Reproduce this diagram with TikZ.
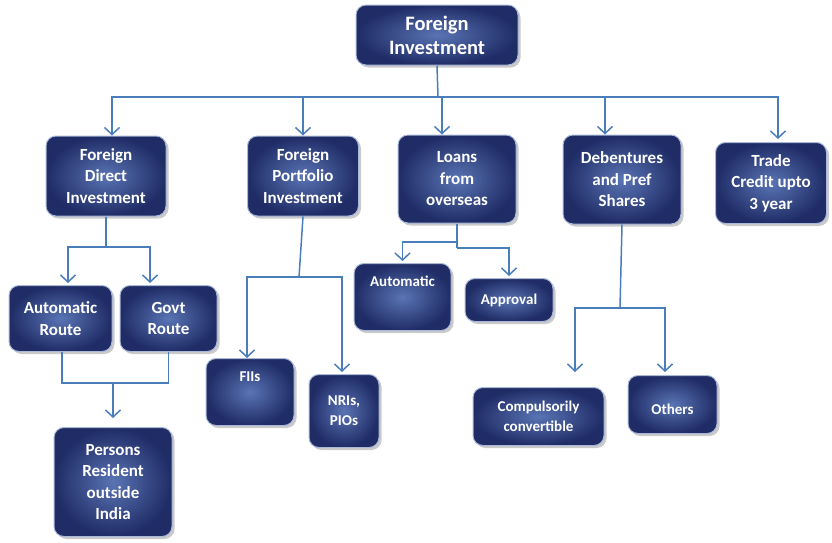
\documentclass[tikz,border=0pt]{standalone}
\usepackage{fontspec}
\setmainfont{Carlito}
\usetikzlibrary{arrows.meta,shadows}
\definecolor{lnc}{HTML}{4A7EBB}
\definecolor{boxin}{HTML}{5A74B4}
\definecolor{boxout}{HTML}{1F2C66}
\definecolor{boxln}{HTML}{A9B8D8}
\begin{document}
\begin{tikzpicture}[x=1pt,y=-1pt,
 box/.style={rounded corners=10pt, draw=boxln, line width=1pt, inner color=boxin, outer color=boxout,
   drop shadow={opacity=0.35, shadow xshift=2.5pt, shadow yshift=-2.5pt, fill=black!60},
   text=white, font=\bfseries\fontsize{17}{21.5}\selectfont, align=center, inner sep=0pt},
 small/.style={font=\bfseries\fontsize{15}{20}\selectfont},
 topbox/.style={font=\bfseries\fontsize{20.5}{24}\selectfont},
 ln/.style={draw=lnc, line width=1.5pt},
 arr/.style={ln, -{Straight Barb[length=7pt,width=15pt,line width=1.5pt]}}
]
\useasboundingbox (0,0) rectangle (832,542);

\node[box, topbox, minimum width=162pt, minimum height=60pt] (fi) at (437,35) {Foreign\\Investment};

\node[box, minimum width=120pt, minimum height=80pt] (fdi) at (106,176) {Foreign\\Direct\\Investment};
\node[box, minimum width=111pt, minimum height=80pt] (fpi) at (303,176) {Foreign\\Portfolio\\Investment};
\node[box, minimum width=118pt, minimum height=88pt] (lo) at (457,179) {Loans\\from\\overseas};
\node[box, minimum width=118pt, minimum height=89pt] (de) at (622,179.5) {Debentures\\and Pref\\Shares};
\node[box, minimum width=111pt, minimum height=81pt] (tr) at (771,183) {Trade\\Credit upto\\3 year};

\node[box, minimum width=103pt, minimum height=66pt] (ar) at (60.5,318.5) {Automatic\\Route};
\node[box, minimum width=97pt, minimum height=66pt] (gr) at (168.5,318.5) {Govt\\Route};
\node[box, minimum width=118pt, minimum height=109pt] (pr) at (113,482) {Persons\\Resident\\outside\\India};

\node[box, small, minimum width=88pt, minimum height=67pt, text height=10pt, text depth=31pt] (fii) at (250,392) {FIIs};
\node[box, small, minimum width=70pt, minimum height=73pt] (nri) at (344,411) {NRIs,\\PIOs};

\node[box, small, minimum width=97pt, minimum height=67pt, text height=10pt, text depth=31pt] (au) at (402.5,297) {Automatic};
\node[box, small, minimum width=88pt, minimum height=43pt] (ap) at (509,300) {Approval};

\node[box, small, minimum width=131pt, minimum height=58pt] (cc) at (538.5,416.5) {Compulsorily\\convertible};
\node[box, small, minimum width=89pt, minimum height=58pt, text height=22pt, text depth=3pt] (ot) at (672.5,404.5) {Others};

% top bus
\coordinate (bus) at (438,97);
\draw[ln] (fi.south) -- (bus);
\draw[arr] (bus) -| ([xshift=6pt]fdi.north);
\draw[arr] (bus) -| (fpi.north);
\draw[arr] (bus) -| ([xshift=-15pt]lo.north);
\draw[arr] (bus) -| ([xshift=-17pt]de.north);
\draw[arr, shorten >=3pt] (bus) -| ([xshift=7pt]tr.north);

% FDI branch
\coordinate (j1) at (106,247);
\draw[ln] (fdi.south) -- (j1);
\draw[arr, shorten >=2pt] (j1) -| ([xshift=7.5pt]ar.north);
\draw[arr, shorten >=2pt] (j1) -| ([xshift=-18.5pt]gr.north);
\coordinate (j2) at (113,383);
\draw[ln] ([xshift=1.5pt]ar.south) |- (j2);
\draw[ln] (gr.south) |- (j2);
\draw[arr, shorten >=9pt] (j2) -- (pr.north);

% FPI branch
\coordinate (j3) at (299,277);
\draw[ln] (fpi.south) -- (j3);
\draw[arr] (j3) -| ([xshift=-3pt]fii.north);
\draw[arr, shorten >=2pt] (j3) -| ([xshift=-2pt]nri.north);

% Loans branch
\coordinate (j4a) at (457,242);
\coordinate (j4b) at (457,248);
\draw[ln] (lo.south) -- (j4b);
\draw[arr, shorten >=2pt] (j4a) -| (au.north);
\draw[arr, shorten >=2pt] (j4b) -| (ap.north);

% Debentures branch
\coordinate (j5) at (620,308);
\draw[ln] (de.south) -- (j5);
\draw[arr, shorten >=15pt] (j5) -| ([xshift=36.5pt]cc.north);
\draw[arr, shorten >=3pt] (j5) -| ([xshift=-7.5pt]ot.north);
\end{tikzpicture}
\end{document}
